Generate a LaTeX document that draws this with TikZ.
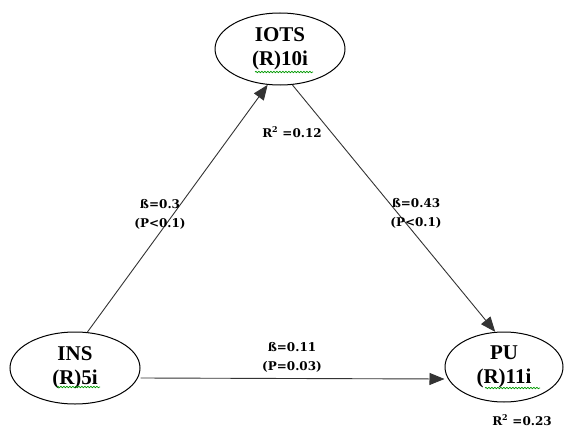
\documentclass[tikz,border=0pt]{standalone}
\usepackage{fontspec}
\setmainfont{Liberation Serif}
\newfontfamily\lblfont{DejaVu Serif}
\usetikzlibrary{shapes.geometric,arrows.meta,decorations.pathmorphing,calc}
\begin{document}
\begin{tikzpicture}[x=1pt,y=-1pt,
  construct/.style={draw=black,line width=1pt,ellipse,inner sep=0pt,
    minimum width=130pt,minimum height=72pt,align=center,
    font=\fontsize{21}{24}\selectfont\bfseries},
  lbl/.style={font=\lblfont\fontsize{12}{19}\selectfont\bfseries,align=center,inner sep=0pt},
  path/.style={draw=black!80,line width=0.9pt,-{Triangle[length=15pt,width=12pt]}},
  squig/.style={draw=green!60!black,line width=0.7pt,decorate,
    decoration={snake,segment length=3pt,amplitude=0.7pt}}]
\useasboundingbox (0,0) rectangle (565,428);
\node[construct] (iots) at (280,49) {IOTS\\(R)10i};
\node[construct] (ins) at (75,368) {INS\\(R)5i};
\node[construct,minimum width=118pt,minimum height=70pt] (pu) at (504,367) {PU\\(R)11i};
% squiggles
\draw[squig] ($(iots.center)+(-25,23)$) -- ($(iots.center)+(33,23)$);
\draw[squig] ($(ins.center)+(-18,19)$) -- ($(ins.center)+(25,19)$);
\draw[squig] ($(pu.center)+(-19,21)$) -- ($(pu.center)+(36,21)$);
% connectors
\draw[path] (ins.71) -- (iots.-109);
\draw[path] (iots.-71) -- (pu.104);
\draw[path] ([yshift=-10pt]ins.east) -- ([yshift=-12pt]pu.west);
% labels
\node[lbl] (l1) at (160,214) {ß=0.3\\(P<0.1)};
\node[lbl] (l2) at (416,213) {ß=0.43\\(P<0.1)};
\node[lbl] (l3) at (292,132) {R\textsuperscript{2} =0.12};
\node[lbl] (l4) at (292,357) {ß=0.11\\(P=0.03)};
\node[lbl] (l5) at (522,420) {R\textsuperscript{2} =0.23};
\end{tikzpicture}
\end{document}
